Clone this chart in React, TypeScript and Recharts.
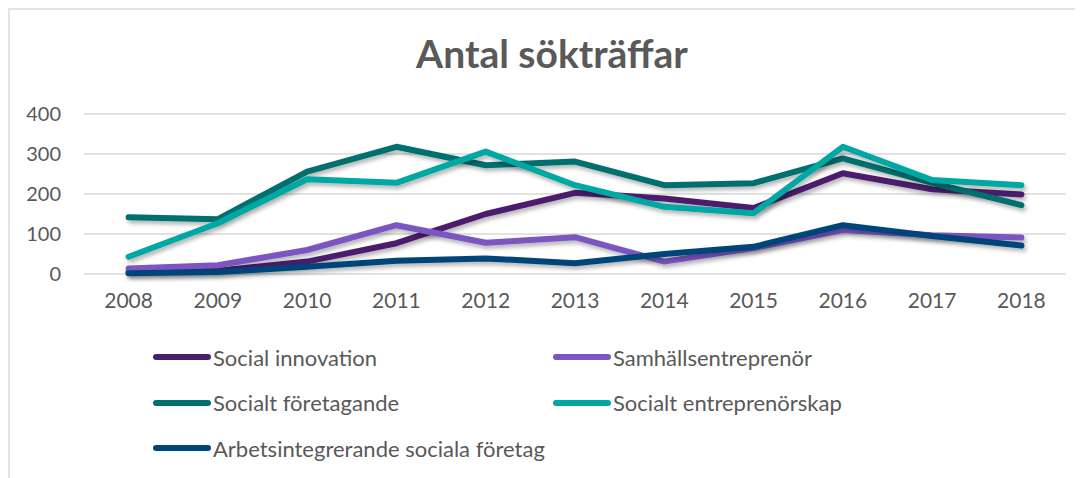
import React from "react";
import { LineChart, Line, XAxis, YAxis, CartesianGrid, Legend } from "recharts";

const years = ["2008", "2009", "2010", "2011", "2012", "2013", "2014", "2015", "2016", "2017", "2018"];

const socialInnovation = [5, 8, 31, 77, 150, 203, 189, 165, 252, 212, 199];
const samhallsentreprenor = [14, 22, 60, 122, 78, 92, 31, 65, 110, 97, 91];
const socialtForetagande = [142, 137, 256, 318, 272, 281, 222, 227, 289, 228, 172];
const socialtEntreprenorskap = [43, 127, 237, 228, 306, 222, 168, 152, 318, 235, 222];
const arbetsintegrerande = [2, 5, 18, 33, 39, 27, 50, 68, 122, 95, 71];

const yTicks = [0, 100, 200, 300, 400];

const series = [
  { key: "si", name: "Social innovation", values: socialInnovation, color: "#4B1F6E" },
  { key: "se", name: "Samhällsentreprenör", values: samhallsentreprenor, color: "#7C56C0" },
  { key: "sf", name: "Socialt företagande", values: socialtForetagande, color: "#00706E" },
  { key: "sek", name: "Socialt entreprenörskap", values: socialtEntreprenorskap, color: "#00A8A3" },
  { key: "ai", name: "Arbetsintegrerande sociala företag", values: arbetsintegrerande, color: "#00457A" },
];

const data = years.map((year, i) => {
  const row: Record<string, string | number> = { year };
  series.forEach((s) => {
    row[s.key] = s.values[i];
  });
  return row;
});

const FONT = "Lato, 'Open Sans', sans-serif";
const TEXT = "#595959";

function LegendBox({ payload }: any) {
  const order = series.map((s) => s.name);
  const items = [...(payload || [])].sort(
    (a: any, b: any) => order.indexOf(a.value) - order.indexOf(b.value)
  );
  return (
    <div style={{ position: "relative", width: "100%", height: "100%", fontFamily: FONT }}>
      {items.map((item: any, i: number) => {
        const col = i % 2;
        const row = Math.floor(i / 2);
        return (
          <div
            key={item.value}
            style={{
              position: "absolute",
              left: col === 0 ? 143 : 543,
              top: row * 45.5,
              display: "flex",
              alignItems: "center",
              height: 26,
            }}
          >
            <span
              style={{
                display: "inline-block",
                width: 58,
                height: 6,
                borderRadius: 3,
                background: item.color,
              }}
            />
            <span style={{ fontSize: 22, color: TEXT, marginLeft: 2 }}>{item.value}</span>
          </div>
        );
      })}
    </div>
  );
}

export default function App() {
  return (
    <div
      style={{
        position: "relative",
        width: 1075,
        height: 470,
        borderTop: "2px solid #e3e3e3",
        borderLeft: "2px solid #e3e3e3",
        background: "#fff",
      }}
    >
      <div
        style={{
          position: "absolute",
          top: 20,
          left: 0,
          width: 1084,
          textAlign: "center",
          fontFamily: FONT,
          fontWeight: 700,
          fontSize: 39,
          color: TEXT,
          zIndex: 2,
        }}
      >
        Antal sökträffar
      </div>
      <LineChart
        width={1073}
        height={468}
        data={data}
        margin={{ top: 104, right: 17, bottom: 174, left: 0 }}
      >
        <defs>
          <filter id="shadow" x="-5%" y="-20%" width="110%" height="140%">
            <feDropShadow dx="2" dy="3" stdDeviation="2" floodColor="#000" floodOpacity="0.3" />
          </filter>
        </defs>
        <CartesianGrid vertical={false} stroke="#d9d9d9" strokeWidth={1.5} />
        <XAxis
          dataKey="year"
          axisLine={false}
          tickLine={false}
          tickSize={0}
          tickMargin={19}
          height={30}
          padding={{ left: 44.6, right: 44.6 }}
          tick={{ fill: TEXT, fontSize: 21, fontFamily: FONT }}
        />
        <YAxis
          domain={[0, 400]}
          ticks={yTicks}
          axisLine={false}
          tickLine={false}
          tickSize={0}
          tickMargin={23}
          width={74}
          tick={{ fill: TEXT, fontSize: 20, fontFamily: FONT }}
        />
        {series.map((s) => (
          <Line
            key={s.key}
            dataKey={s.key}
            name={s.name}
            stroke={s.color}
            strokeWidth={6}
            strokeLinecap="round"
            strokeLinejoin="round"
            dot={false}
            activeDot={false}
            type="linear"
            filter="url(#shadow)"
            isAnimationActive={false}
          />
        ))}
        <Legend
          layout="horizontal"
          verticalAlign="middle"
          align="center"
          content={<LegendBox />}
          wrapperStyle={{ top: 334, left: 0, width: 1073, height: 130 }}
        />
      </LineChart>
    </div>
  );
}
